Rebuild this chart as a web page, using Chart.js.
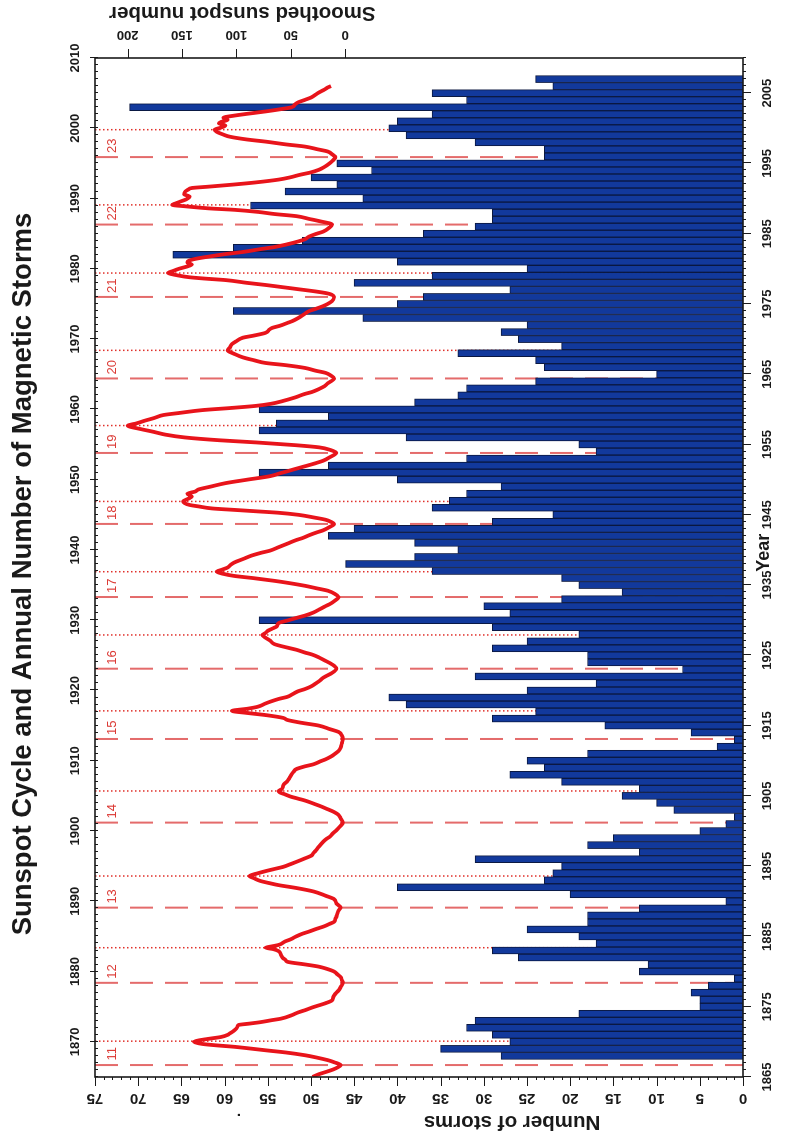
<!DOCTYPE html>
<html>
<head>
<meta charset="utf-8">
<script src="https://cdn.jsdelivr.net/npm/chart.js@4.4.1/dist/chart.umd.min.js"></script>
<style>
  html, body { margin: 0; padding: 0; background: #fff; overflow: hidden; width: 796px; height: 1141px; }
  #wrap { position: absolute; left: 0; top: 0; width: 1141px; height: 796px;
          transform-origin: 0 0; transform: translate(0, 1141px) rotate(-90deg); }
</style>
</head>
<body>
<div id="wrap"><canvas id="myChart" width="1141" height="796"></canvas></div>
<script>
// annual number of magnetic storms, 1868 .. 2007
let storms = [
    28, 35, 27, 29, 32, 31, 19, 5, 5, 6,
    4, 1, 12, 11, 26, 29, 17, 19, 25, 18,
    18, 12, 2, 20, 40, 23, 22, 21, 31, 12,
    18, 15, 5, 2, 1, 8, 10, 14, 12, 21,
    27, 23, 25, 18, 3, 1, 6, 16, 29, 24,
    39, 41, 25, 17, 31, 7, 18, 18, 29, 25,
    19, 29, 56, 27, 30, 21, 14, 19, 21, 36,
    46, 38, 33, 38, 48, 45, 29, 22, 36, 34,
    32, 28, 40, 56, 48, 32, 17, 19, 39, 56,
    54, 48, 56, 38, 33, 32, 24, 10, 23, 24,
    33, 21, 26, 28, 25, 44, 59, 40, 37, 27,
    45, 36, 25, 40, 66, 59, 51, 37, 31, 29,
    29, 57, 44, 53, 47, 50, 43, 47, 23, 23,
    31, 39, 41, 40, 36, 71, 32, 36, 22, 24
];
let stormYears = storms.map((v, i) => 1868 + i);

// smoothed sunspot number
let sunYears = [
    1865.0, 1865.4, 1865.8, 1866.2, 1866.7, 1867.1, 1867.4, 1867.8, 1868.1, 1868.5, 1868.8, 1869.1, 1869.3, 1869.5, 1869.7, 1870.0, 1870.2, 1870.4, 1870.7, 1871.0, 1871.2, 1871.5, 1871.9, 1872.2, 1872.4, 1872.6, 1872.8, 1873.1, 1873.3, 1873.8, 1874.2, 1874.5, 1874.9, 1875.2, 1875.5, 1875.9, 1876.3, 1876.6, 1877.0, 1877.3, 1877.8, 1878.4,
    1878.8, 1879.2, 1879.6, 1880.0, 1880.4, 1880.7, 1881.0, 1881.4, 1881.7, 1881.9, 1882.4, 1882.9, 1883.2, 1883.4, 1883.6, 1883.8, 1884.3, 1884.6, 1885.0, 1885.4, 1885.7, 1886.1, 1886.4, 1886.8, 1887.1, 1887.5, 1887.8, 1888.3, 1888.7, 1889.1,
    1889.7, 1890.3, 1890.8, 1891.4, 1891.9, 1892.3, 1892.6, 1892.9, 1893.3, 1893.6, 1894.0, 1894.3, 1894.6, 1894.9, 1895.3, 1895.6, 1896.1, 1896.5, 1896.9, 1897.2, 1897.8, 1898.5, 1898.9, 1899.2, 1899.7, 1900.1, 1900.6, 1901.2,
    1901.8, 1902.3, 1902.7, 1903.1, 1903.5, 1903.9, 1904.3, 1904.6, 1904.9, 1905.2, 1905.5, 1905.7, 1906.0, 1906.4, 1906.7, 1907.1, 1907.6, 1908.1, 1908.5, 1908.8, 1909.2, 1909.5, 1909.9, 1910.2, 1910.6, 1910.9, 1911.4, 1911.9, 1912.5, 1913.1,
    1913.6, 1914.1, 1914.5, 1915.0, 1915.4, 1915.8, 1916.1, 1916.5, 1916.8, 1917.1, 1917.4, 1917.7, 1918.1, 1918.4, 1918.8, 1919.1, 1919.5, 1919.9, 1920.2, 1920.6, 1921.0, 1921.3, 1921.7, 1922.0, 1922.5, 1923.1,
    1923.5, 1923.9, 1924.3, 1924.7, 1925.1, 1925.4, 1925.8, 1926.1, 1926.6, 1927.1, 1927.5, 1927.9, 1928.2, 1928.5, 1928.8, 1929.1, 1929.6, 1930.0, 1930.4, 1930.7, 1931.1, 1931.5, 1932.0, 1932.3, 1932.7, 1933.3,
    1933.7, 1934.2, 1934.5, 1934.9, 1935.3, 1935.6, 1936.0, 1936.3, 1936.6, 1936.9, 1937.2, 1937.5, 1937.9, 1938.2, 1938.7, 1939.2, 1939.6, 1939.9, 1940.4, 1940.9, 1941.4, 1941.7, 1942.1, 1942.5, 1942.8, 1943.2, 1943.7,
    1944.0, 1944.3, 1944.6, 1945.0, 1945.3, 1945.5, 1945.7, 1945.9, 1946.2, 1946.4, 1946.9, 1947.3, 1947.6, 1948.0, 1948.3, 1948.6, 1949.0, 1949.5, 1950.0, 1950.5, 1950.9, 1951.2, 1951.6, 1951.9, 1952.3, 1952.7, 1953.2, 1953.8,
    1954.2, 1954.6, 1954.9, 1955.3, 1955.6, 1956.0, 1956.4, 1956.8, 1957.2, 1957.7, 1958.0, 1958.4, 1958.8, 1959.2, 1959.5, 1959.9, 1960.2, 1960.5, 1960.8, 1961.2, 1961.7, 1962.2, 1962.5, 1962.9, 1963.3, 1963.7, 1964.4,
    1964.8, 1965.2, 1965.5, 1965.9, 1966.3, 1966.6, 1967.0, 1967.4, 1967.9, 1968.4, 1968.8, 1969.3, 1969.7, 1970.2, 1970.5, 1970.9, 1971.3, 1971.6, 1971.9, 1972.3, 1972.6, 1973.0, 1973.5, 1974.0, 1974.3, 1974.7, 1975.0, 1975.4, 1976.0,
    1976.3, 1976.5, 1976.8, 1977.1, 1977.4, 1977.7, 1978.0, 1978.4, 1978.6, 1978.8, 1979.1, 1979.4, 1979.7, 1980.0, 1980.3, 1980.6, 1980.9, 1981.2, 1981.5, 1981.7, 1982.1, 1982.4, 1982.8, 1983.1, 1983.5, 1983.9, 1984.2, 1984.6, 1985.0, 1985.3, 1985.8, 1986.3,
    1986.8, 1987.1, 1987.5, 1987.8, 1988.1, 1988.4, 1988.6, 1988.9, 1989.1, 1989.3, 1989.6, 1989.9, 1990.3, 1990.6, 1991.0, 1991.3, 1991.5, 1991.7, 1992.0, 1992.3, 1992.7, 1993.0, 1993.4, 1993.7, 1994.1, 1994.5, 1994.8, 1995.3, 1995.9,
    1996.3, 1996.7, 1997.0, 1997.4, 1997.7, 1998.1, 1998.4, 1998.8, 1999.1, 1999.5, 1999.8, 2000.1, 2000.4, 2000.7, 2000.9, 2001.2, 2001.5, 2001.8, 2002.1, 2002.4, 2002.7, 2003.0, 2003.4, 2003.7, 2004.1, 2004.4, 2004.8, 2005.1, 2005.5, 2005.8, 2006.0
];
let sunValues = [
    30, 24, 16, 9, 4, 10, 16, 27, 37, 55, 73, 90, 102, 118, 131, 139, 135, 127, 114, 108, 106, 103, 100, 99, 98, 88, 78, 67, 59, 49, 43, 37, 30, 24, 18, 12, 11, 10, 8, 6, 4, 2,
    3, 4, 7, 10, 17, 24, 36, 53, 55, 57, 59, 61, 66, 73, 67, 61, 55, 50, 45, 39, 33, 26, 20, 14, 10, 9, 8, 7, 6, 4,
    8, 10, 18, 29, 45, 61, 70, 78, 84, 88, 80, 73, 65, 57, 50, 45, 37, 31, 29, 27, 24, 20, 17, 14, 11, 8, 5, 2,
    4, 6, 10, 16, 22, 29, 36, 43, 50, 55, 60, 61, 58, 57, 56, 53, 51, 49, 47, 45, 37, 29, 23, 18, 13, 10, 6, 4, 3, 2,
    3, 6, 14, 24, 40, 53, 57, 73, 90, 104, 90, 80, 74, 69, 61, 53, 48, 43, 37, 31, 27, 24, 21, 18, 12, 8,
    10, 14, 19, 24, 30, 37, 45, 53, 65, 69, 73, 76, 73, 71, 67, 63, 61, 52, 43, 36, 29, 24, 18, 14, 10, 6,
    9, 16, 25, 37, 52, 65, 85, 102, 112, 118, 113, 108, 105, 102, 94, 86, 77, 69, 61, 53, 45, 39, 33, 26, 20, 15, 10,
    13, 18, 28, 43, 62, 82, 102, 122, 135, 143, 149, 144, 141, 145, 138, 135, 124, 110, 90, 69, 60, 53, 44, 37, 28, 20, 14, 8,
    13, 24, 45, 82, 115, 147, 165, 176, 188, 200, 192, 184, 175, 167, 152, 131, 105, 82, 68, 57, 46, 37, 30, 24, 19, 16, 10,
    13, 18, 27, 37, 55, 73, 84, 94, 102, 108, 106, 104, 100, 94, 84, 73, 70, 67, 60, 53, 48, 43, 38, 33, 27, 20, 16, 12, 10,
    12, 16, 28, 43, 58, 73, 90, 110, 128, 143, 155, 163, 158, 153, 146, 141, 145, 143, 135, 127, 110, 94, 78, 65, 53, 43, 37, 33, 26, 20, 15, 12,
    24, 33, 45, 65, 80, 102, 125, 147, 159, 156, 151, 146, 143, 148, 147, 144, 141, 125, 102, 82, 61, 51, 41, 32, 24, 19, 16, 12, 9,
    12, 16, 25, 37, 54, 73, 90, 106, 112, 118, 120, 114, 110, 116, 114, 108, 112, 102, 88, 73, 60, 49, 46, 43, 36, 31, 27, 24, 19, 16, 13
];

// solar cycles: number, minimum (dashed) and maximum (dotted)
let cycleNumbers = ['11', '12', '13', '14', '15', '16', '17', '18', '19', '20', '21', '22', '23'];
let cycleMinima = [1866.7, 1878.4, 1889.1, 1901.2, 1913.1, 1923.1, 1933.3, 1943.7, 1953.8, 1964.4, 1976.0, 1986.3, 1995.9];
let cycleMaxima = [1870.1, 1883.4, 1893.6, 1905.7, 1917.1, 1927.9, 1936.9, 1946.9, 1957.7, 1968.4, 1979.4, 1989.1, 1999.8];

let stormTicks = [0, 5, 10, 15, 20, 25, 30, 35, 40, 45, 50, 55, 60, 65, 70, 75];
let sunTicks = [0, 50, 100, 150, 200];
let lowerYearLabels = [1865, 1875, 1885, 1895, 1905, 1915, 1925, 1935, 1945, 1955, 1965, 1975, 1985, 1995, 2005];
let upperYearLabels = [1870, 1880, 1890, 1900, 1910, 1920, 1930, 1940, 1950, 1960, 1970, 1980, 1990, 2000, 2010];

const FONT = '"Liberation Sans", Arial, Helvetica, sans-serif';

function upText(ctx, txt, x, y) {
    ctx.save();
    ctx.translate(x, y);
    ctx.rotate(-Math.PI / 2);
    ctx.fillText(txt, 0, 0);
    ctx.restore();
}

const axesPlugin = {
    id: 'axesPlugin',
    afterDraw(chart) {
        const ctx = chart.ctx;
        const a = chart.chartArea;
        const x = chart.scales.x, y = chart.scales.y, y2 = chart.scales.y2;
        ctx.save();
        ctx.strokeStyle = '#1a1a1a';
        ctx.fillStyle = '#1a1a1a';
        ctx.lineWidth = 1;

        ctx.beginPath();
        for (let yr = 1865; yr <= 2010; yr++) {
            const px = Math.round(x.getPixelForValue(yr)) + 0.5;
            ctx.moveTo(px, a.bottom);
            ctx.lineTo(px, a.bottom + (lowerYearLabels.includes(yr) ? 8 : 3));
            ctx.moveTo(px, a.top);
            ctx.lineTo(px, a.top + 3);
            if (upperYearLabels.includes(yr)) {
                ctx.moveTo(px, a.top);
                ctx.lineTo(px, a.top - 5);
            }
        }
        for (let v = 0; v <= 75; v++) {
            const py = Math.round(y.getPixelForValue(v)) + 0.5;
            ctx.moveTo(a.left, py);
            ctx.lineTo(a.left - (v % 5 === 0 ? 9 : 3), py);
        }
        sunTicks.forEach(v => {
            const py = Math.round(y2.getPixelForValue(v)) + 0.5;
            ctx.moveTo(a.right, py);
            ctx.lineTo(a.right + 9, py);
        });
        ctx.stroke();

        ctx.lineWidth = 1.6;
        ctx.strokeRect(a.left, a.top, a.right - a.left, a.bottom - a.top);

        ctx.textAlign = 'center';
        ctx.textBaseline = 'middle';

        ctx.font = 'bold 13px ' + FONT;
        lowerYearLabels.forEach(yr => ctx.fillText(String(yr), x.getPixelForValue(yr), a.bottom + 24));
        upperYearLabels.forEach(yr => ctx.fillText(String(yr), x.getPixelForValue(yr), a.top - 20));

        ctx.font = 'bold 15px ' + FONT;
        stormTicks.forEach(v => upText(ctx, String(v), a.left - 21, y.getPixelForValue(v)));

        ctx.font = 'bold 13px ' + FONT;
        sunTicks.forEach(v => upText(ctx, String(v), a.right + 23, y2.getPixelForValue(v)));

        ctx.font = 'bold 20.5px ' + FONT;
        upText(ctx, 'Number of storms', 19, 512);
        upText(ctx, 'Smoothed sunspot number', a.right + 45, y2.getPixelForValue(100) + 6);
        ctx.font = 'bold 18px ' + FONT;
        ctx.fillText('Year', x.getPixelForValue(1939.6), a.bottom + 21);
        ctx.font = 'bold 15px ' + FONT;
        ctx.fillText('.', 26, 236);

        ctx.font = 'bold 27.5px ' + FONT;
        ctx.fillText('Sunspot Cycle and Annual Number of Magnetic Storms', 567, 23);

        ctx.fillStyle = '#dc3b36';
        ctx.font = '13px ' + FONT;
        cycleNumbers.forEach((n, i) => ctx.fillText(n, x.getPixelForValue(cycleMinima[i] + 1.6), y.getPixelForValue(73)));
        ctx.restore();
    }
};

let datasets = [
    {
        type: 'bar',
        label: 'storms',
        data: storms.map((v, i) => ({ x: stormYears[i], y: v })),
        backgroundColor: '#12399c',
        borderColor: '#0b1840',
        borderWidth: 1,
        barPercentage: 1,
        categoryPercentage: 1,
        yAxisID: 'y',
        order: 2
    },
    {
        type: 'line',
        label: 'sunspots',
        data: sunValues.map((v, i) => ({ x: sunYears[i], y: v })),
        borderColor: '#e8141b',
        borderWidth: 3.8,
        pointRadius: 0,
        cubicInterpolationMode: 'monotone',
        yAxisID: 'y2',
        order: 1
    }
];
cycleMinima.forEach(yr => datasets.push({
    type: 'line',
    data: [{ x: yr, y: 75 }, { x: yr, y: 0 }],
    borderColor: '#e46b6b',
    borderWidth: 2,
    borderDash: [23, 12],
    pointRadius: 0,
    yAxisID: 'y',
    order: 3
}));
cycleMaxima.forEach(yr => datasets.push({
    type: 'line',
    data: [{ x: yr, y: 75 }, { x: yr, y: 0 }],
    borderColor: '#e0302a',
    borderWidth: 1.5,
    borderDash: [1.5, 2.5],
    pointRadius: 0,
    yAxisID: 'y',
    order: 3
}));

let ctx = document.getElementById('myChart').getContext('2d');
let chart = new Chart(ctx, {
    type: 'bar',
    data: { datasets: datasets },
    options: {
        responsive: false,
        animation: false,
        layout: { padding: { left: 64, right: 58, top: 95, bottom: 53 } },
        plugins: { legend: { display: false }, tooltip: { enabled: false }, title: { display: false } },
        scales: {
            x: { type: 'linear', min: 1865, max: 2010, offset: false, display: false },
            y: { type: 'linear', min: 0, max: 75, display: false },
            y2: { type: 'linear', min: -366, max: 230, display: false }
        }
    },
    plugins: [axesPlugin]
});
</script>
</body>
</html>
